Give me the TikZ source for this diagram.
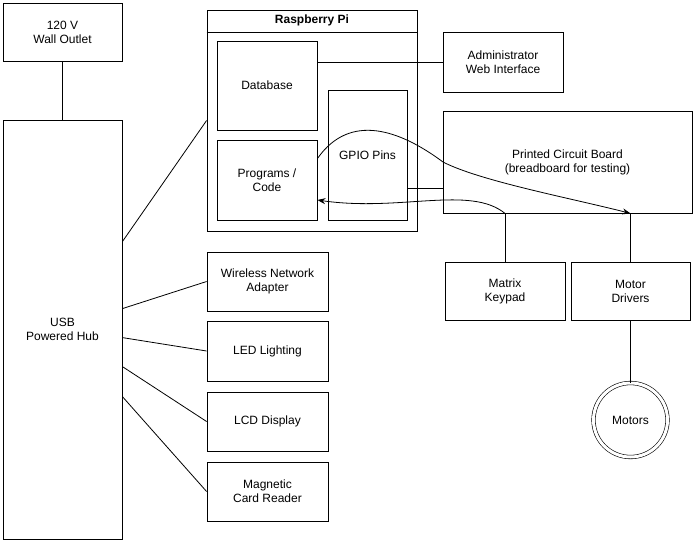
\documentclass[tikz,border=0pt]{standalone}
\usepackage{fontspec}
\setmainfont{Liberation Sans}
\usetikzlibrary{calc,arrows.meta}
\begin{document}
\begin{tikzpicture}[x=1pt,y=-1pt,
  every node/.style={font=\fontsize{12}{14}\selectfont},
  box/.style={draw,line width=0.8pt,rectangle,align=center,inner sep=0pt},
  conn/.style={draw,line width=0.8pt},
  arr/.style={conn,-{Stealth[length=8pt,width=6pt]}}]
\useasboundingbox (0,0) rectangle (694,541);
% left column
\node[box,minimum width=119,minimum height=58] (wall) at (62.5,32.5) {120 V\\Wall Outlet};
\node[box,minimum width=119,minimum height=419] (hub) at (62.5,329.5) {USB\\Powered Hub};
% raspberry pi
\node[box,minimum width=210,minimum height=221] (rpi) at (312,120.5) {};
\node[font=\fontsize{12}{14}\selectfont\bfseries] (rpititle) at (312,20) {Raspberry Pi};
\draw[line width=0.8pt] (rpi.north west) ++(0,23) coordinate (sepl) -- (sepl -| rpi.east);
\node[box,minimum width=100,minimum height=89] (db) at (267,85.5) {Database};
\node[box,minimum width=100,minimum height=80] (prog) at (267,180) {Programs /\\Code};
\node[box,minimum width=79,minimum height=130] (gpio) at (367.5,155) {GPIO Pins};
% right side
\node[box,minimum width=120,minimum height=60] (admin) at (503,62) {Administrator\\Web Interface};
\node[box,minimum width=249,minimum height=102] (pcb) at (567.5,162) {Printed Circuit Board\\(breadboard for testing)};
\node[box,minimum width=120,minimum height=58] (keypad) at (505,291) {Matrix\\Keypad};
\node[box,minimum width=119,minimum height=58] (motdrv) at (630.5,291) {Motor\\Drivers};
\node[draw,circle,line width=0.6pt,double,double distance=3pt,minimum size=74,inner sep=0pt] (motors) at (630.5,420) {Motors};
% USB devices
\node[box,minimum width=121,minimum height=59] (wifi) at (267.5,281.5) {Wireless Network\\Adapter};
\node[box,minimum width=121,minimum height=60] (led) at (267.5,351) {LED Lighting};
\node[box,minimum width=121,minimum height=59] (lcd) at (267.5,421.5) {LCD Display};
\node[box,minimum width=121,minimum height=59] (mag) at (267.5,491.5) {Magnetic\\Card Reader};
% connectors
\draw[conn] (wall.south) -- (hub.north);
\draw[conn] ($(hub.north east)+(0,122)$) -- (rpi.west);
\draw[conn] ($(hub.north east)+(0,189)$) -- (wifi.west);
\draw[conn] ($(hub.north east)+(0,218)$) -- (led.west);
\draw[conn] ($(hub.north east)+(0,247)$) -- (lcd.west);
\draw[conn] ($(hub.north east)+(0,277)$) -- (mag.west);
\draw[conn] (db.east |- admin.west) -- (admin.west);
\draw[conn] ($(gpio.south east)+(0,-32)$) -- ($(pcb.south west)+(0,-25)$);
\draw[conn] (keypad.north) -- (keypad.north |- pcb.south);
\draw[conn] (motdrv.north) -- (motdrv.north |- pcb.south);
\draw[conn] (motdrv.south) -- (motors.north);
\draw[arr] ($(prog.north east)+(0,19)$) .. controls (350,112) and (400,130) .. (443,162)
  .. controls (480,181) and (570,198) .. (motdrv.north |- pcb.south);
\draw[arr] (keypad.north |- pcb.south) .. controls (470,185) and (400,212) .. ($(prog.east)+(0,20)$);
\end{tikzpicture}
\end{document}
